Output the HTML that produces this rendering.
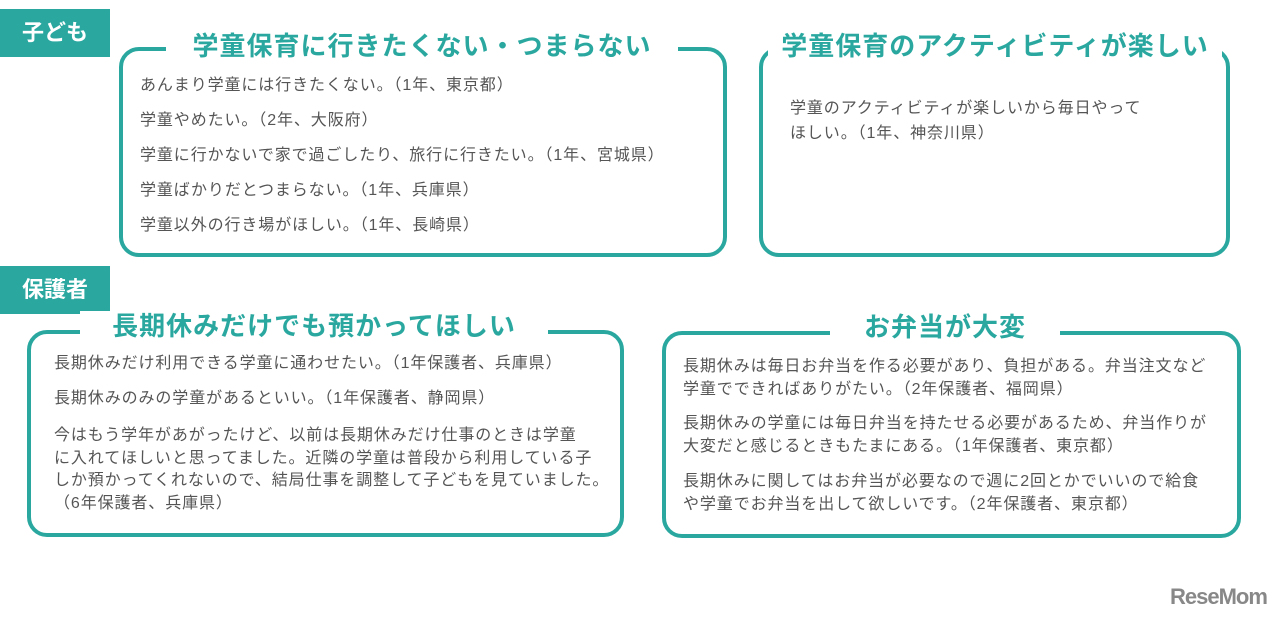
<!DOCTYPE html>
<html><head><meta charset="utf-8"><style>
body{margin:0;width:1280px;height:619px;background:#fff;position:relative;overflow:hidden;font-family:"Liberation Sans","Noto Sans CJK JP",sans-serif;color:#555}
.lab{position:absolute;left:0;width:110px;height:48px;background:#2aa8a0;color:#fff;font-size:22px;font-weight:bold;line-height:48px;text-align:center}
.box{position:absolute;border:4px solid #2aa8a0;border-radius:20px;box-sizing:border-box}
.tt{position:absolute;background:#fff;color:#2aa8a0;font-size:26px;font-weight:bold;white-space:nowrap;line-height:30px;padding:0 8px;letter-spacing:1px}
.t{position:absolute;font-size:16px;white-space:nowrap;line-height:22.5px;letter-spacing:0.9px}
.logo{position:absolute;left:1170px;top:584px;font-size:22px;font-weight:bold;color:#888;letter-spacing:-1px}
</style></head><body>
<div class="lab" style="top:9px">子ども</div>
<div class="lab" style="top:266px">保護者</div>

<div class="box" style="left:119px;top:47px;width:608px;height:210px"></div>
<div class="tt" style="left:166px;top:31px;width:496px;text-align:center">学童保育に行きたくない・つまらない</div>
<div class="t" style="left:140px;top:75px">あんまり学童には行きたくない。（1年、東京都）</div>
<div class="t" style="left:140px;top:110px">学童やめたい。（2年、大阪府）</div>
<div class="t" style="left:140px;top:145px">学童に行かないで家で過ごしたり、旅行に行きたい。（1年、宮城県）</div>
<div class="t" style="left:140px;top:180px">学童ばかりだとつまらない。（1年、兵庫県）</div>
<div class="t" style="left:140px;top:215px">学童以外の行き場がほしい。（1年、長崎県）</div>

<div class="box" style="left:759px;top:47px;width:471px;height:210px"></div>
<div class="tt" style="left:768px;top:31px;width:438px;text-align:center">学童保育のアクティビティが楽しい</div>
<div class="t" style="left:790px;top:96px;line-height:25px">学童のアクティビティが楽しいから毎日やって<br>ほしい。（1年、神奈川県）</div>

<div class="box" style="left:27px;top:330px;width:597px;height:207px"></div>
<div class="tt" style="left:80px;top:311px;width:452px;text-align:center">長期休みだけでも預かってほしい</div>
<div class="t" style="left:54px;top:353px">長期休みだけ利用できる学童に通わせたい。（1年保護者、兵庫県）</div>
<div class="t" style="left:54px;top:388px">長期休みのみの学童があるといい。（1年保護者、静岡県）</div>
<div class="t" style="left:54px;top:425px">今はもう学年があがったけど、以前は長期休みだけ仕事のときは学童<br>に入れてほしいと思ってました。近隣の学童は普段から利用している子<br>しか預かってくれないので、結局仕事を調整して子どもを見ていました。<br>（6年保護者、兵庫県）</div>

<div class="box" style="left:662px;top:331px;width:579px;height:207px"></div>
<div class="tt" style="left:830px;top:312px;width:214px;text-align:center">お弁当が大変</div>
<div class="t" style="left:683px;top:356px">長期休みは毎日お弁当を作る必要があり、負担がある。弁当注文など<br>学童でできればありがたい。（2年保護者、福岡県）</div>
<div class="t" style="left:683px;top:413px">長期休みの学童には毎日弁当を持たせる必要があるため、弁当作りが<br>大変だと感じるときもたまにある。（1年保護者、東京都）</div>
<div class="t" style="left:683px;top:471px">長期休みに関してはお弁当が必要なので週に2回とかでいいので給食<br>や学童でお弁当を出して欲しいです。（2年保護者、東京都）</div>

<div class="logo">ReseMom</div>
</body></html>
